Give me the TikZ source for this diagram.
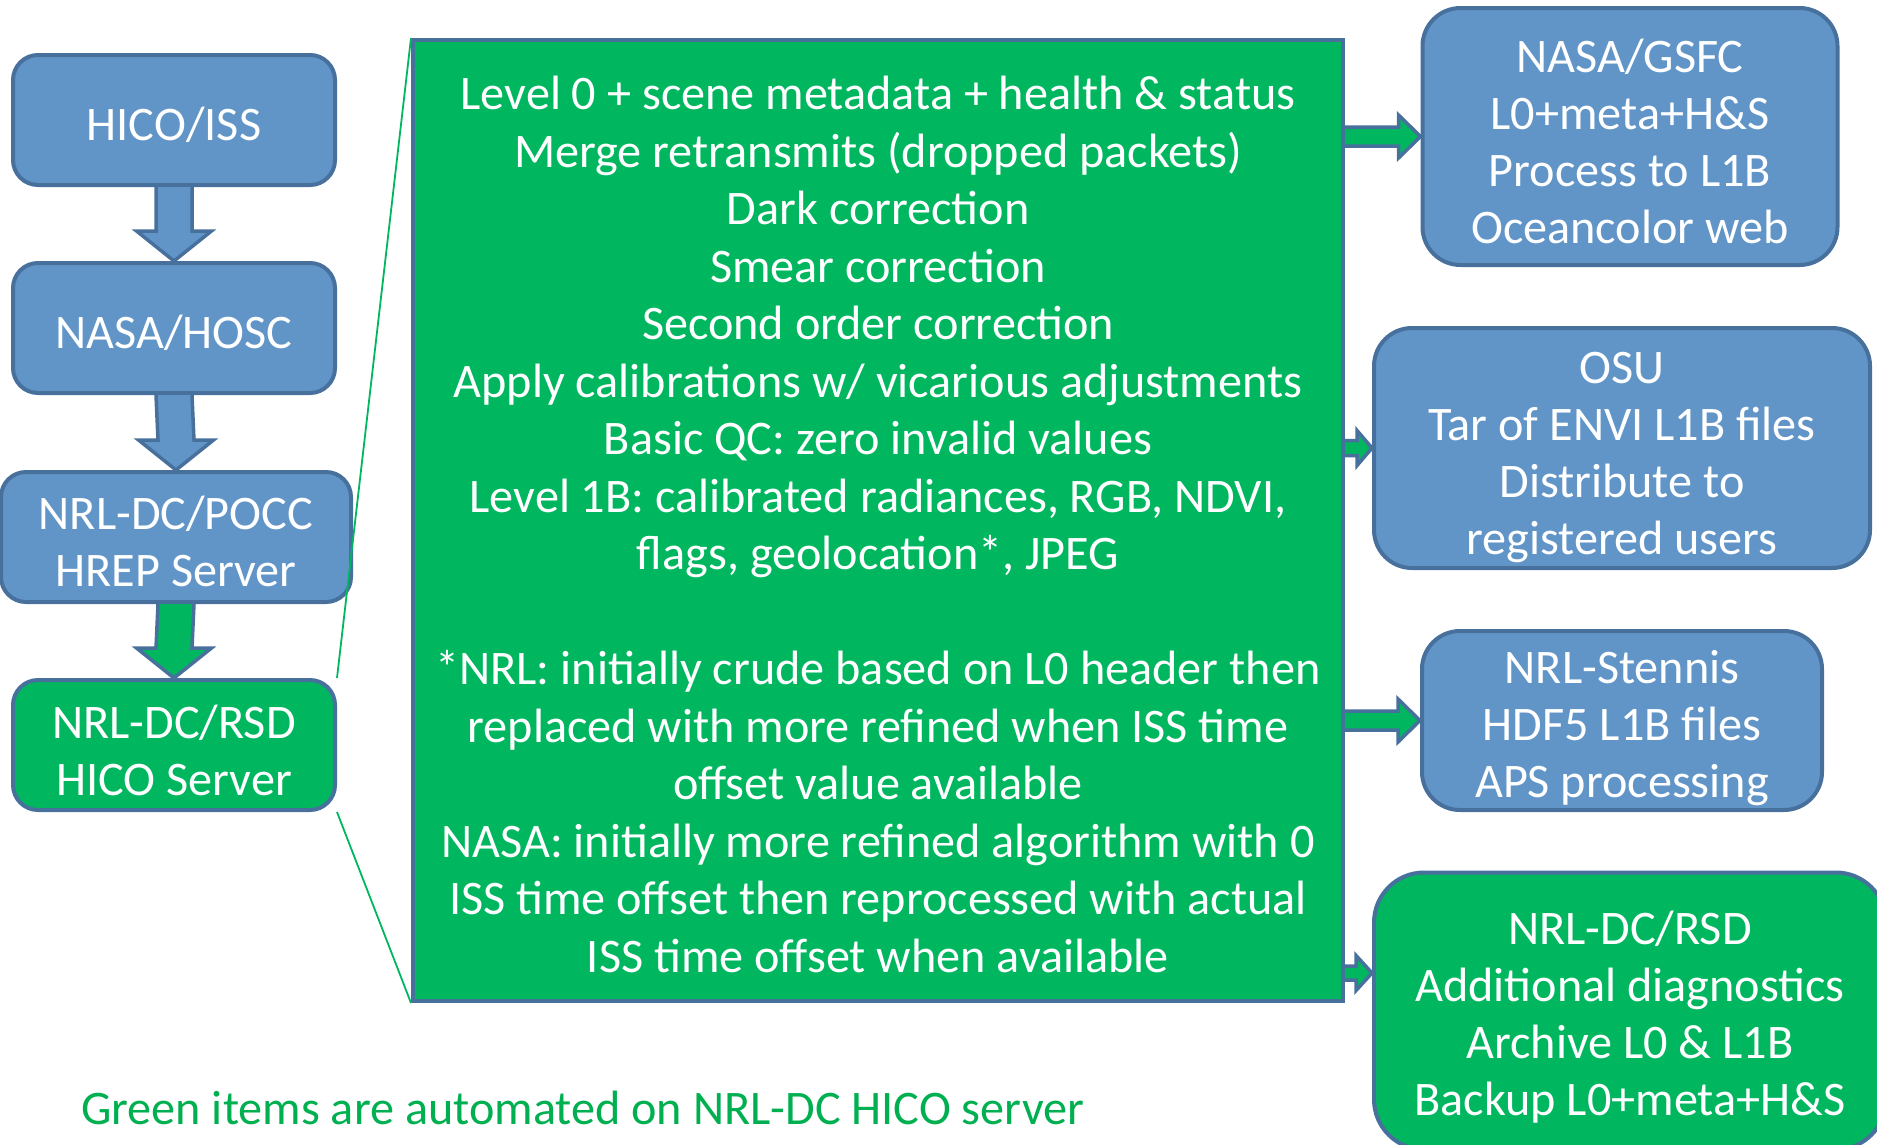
\documentclass[tikz,border=0pt]{standalone}
\usepackage{fontspec}
\setmainfont{Carlito}
\usetikzlibrary{calc}
\definecolor{bfill}{HTML}{6195C8}
\definecolor{bline}{HTML}{48709C}
\definecolor{gfill}{HTML}{00B760}
\definecolor{gtext}{HTML}{00B050}
\tikzset{
 box/.style={draw=bline, line width=4pt, rounded corners=25pt, inner sep=0pt},
 bluebox/.style={box, fill=bfill},
 greenbox/.style={box, fill=gfill},
 rbox/.style={rounded corners=38pt},
 boxtext/.style={text=white, align=center, inner sep=0pt, font=\fontsize{48.2}{57}\selectfont},
 blockarrow/.style={draw=bline, line width=3.5pt, fill=bfill, line join=miter},
 greenarrow/.style={draw=bline, line width=3.5pt, fill=gfill, line join=miter},
 callout/.style={draw=gfill, line width=1.8pt},
}
\newcommand\vArrow[6]{\draw[#6] ($(#1)+(-#3,0)$) -- ($(#2)+(-#3,-#5)$) -- ($(#2)+(-#4,-#5)$) -- (#2) -- ($(#2)+(#4,-#5)$) -- ($(#2)+(#3,-#5)$) -- ($(#1)+(#3,0)$);}
\newcommand\hArrow[6]{\draw[#6] ($(#1)+(0,-#3)$) -- ($(#2)+(-#5,-#3)$) -- ($(#2)+(-#5,-#4)$) -- (#2) -- ($(#2)+(-#5,#4)$) -- ($(#2)+(-#5,#3)$) -- ($(#1)+(0,#3)$);}
\begin{document}
\begin{tikzpicture}[x=1pt,y=-1pt]
\useasboundingbox (0,0) rectangle (1877,1144);
\clip (0,0) rectangle (1877,1144);
% left column
\node[bluebox, minimum width=322pt, minimum height=130pt] (hico) at (174,120) {};
\node[boxtext] (hicot) at ($(hico.center)+(0,5)$) {HICO/ISS};
\node[bluebox, minimum width=322pt, minimum height=130pt] (hosc) at (174,328) {};
\node[boxtext] (hosct) at ($(hosc.center)+(0,5)$) {NASA/HOSC};
\node[bluebox, minimum width=350pt, minimum height=130pt] (pocc) at (176,537) {};
\node[boxtext] (pocct) at ($(pocc.center)+(0,4.5)$) {NRL-DC/POCC\\HREP Server};
\node[greenbox, minimum width=322pt, minimum height=130pt] (rsdl) at (174,745) {};
\node[boxtext] (rsdlt) at ($(rsdl.center)+(0,5)$) {NRL-DC/RSD\\HICO Server};
\vArrow{hico.south}{hosc.north}{18}{37.5}{30}{blockarrow}
\vArrow{hosc.south}{pocc.north}{18}{37.5}{30}{blockarrow}
\vArrow{pocc.south}{rsdl.north}{18}{37.5}{30}{greenarrow}
% big box
\node[draw=bline, fill=gfill, line width=4pt, minimum width=930pt, minimum height=961pt, inner sep=0pt] (big) at (878,520.5) {};
\node[boxtext, font=\fontsize{48.2}{57.5}\selectfont] (bigt) at ($(big.center)+(0,4)$)
{Level 0 + scene metadata + health \& status\\
Merge retransmits (dropped packets)\\
Dark correction\\
Smear correction\\
Second order correction\\
Apply calibrations w/ vicarious adjustments\\
Basic QC: zero invalid values\\
Level 1B: calibrated radiances, RGB, NDVI,\\
flags, geolocation*, JPEG\\[57.5pt]
*NRL: initially crude based on L0 header then\\
replaced with more refined when ISS time\\
offset value available\\
NASA: initially more refined algorithm with 0\\
ISS time offset then reprocessed with actual\\
ISS time offset when available};
% right column
\node[bluebox, rbox, minimum width=415pt, minimum height=257pt] (gsfc) at (1630,136.5) {};
\node[boxtext] (gsfct) at ($(gsfc.center)+(0,5)$) {NASA/GSFC\\L0+meta+H\&S\\Process to L1B\\Oceancolor web};
\node[bluebox, rbox, minimum width=496pt, minimum height=240pt] (osu) at (1622,448) {};
\node[boxtext] (osut) at ($(osu.center)+(0,9)$) {OSU\\Tar of ENVI L1B files\\Distribute to\\registered users};
\node[bluebox, rbox, minimum width=400pt, minimum height=179pt] (sten) at (1622,720.5) {};
\node[boxtext] (stent) at ($(sten.center)+(0,8)$) {NRL-Stennis\\HDF5 L1B files\\APS processing};
\node[greenbox, rounded corners=50pt, minimum width=512pt, minimum height=277pt] (rsdr) at (1630,1011) {};
\node[boxtext] (rsdrt) at ($(rsdr.center)+(0,6)$) {NRL-DC/RSD\\Additional diagnostics\\Archive L0 \& L1B\\Backup L0+meta+H\&S};
\coordinate (a1s) at (big.east |- gsfc.west);
\coordinate (a2s) at (big.east |- osu.west);
\coordinate (a3s) at (big.east |- sten.west);
\coordinate (a4s) at (big.east |- 0,973);
\coordinate (a4e) at (rsdr.west |- 0,973);
\hArrow{a1s}{gsfc.west}{9.5}{21.5}{22}{greenarrow}
\hArrow{a2s}{osu.west}{7.5}{17.5}{15}{greenarrow}
\hArrow{a3s}{sten.west}{9.5}{21.5}{22}{greenarrow}
\hArrow{a4s}{a4e}{7}{17.5}{16}{greenarrow}
% callout lines
\draw[callout] (big.north west) -- (rsdl.north east);
\draw[callout] (rsdl.south east) -- (big.south west);
% caption
\node[anchor=west, inner sep=0pt, text=gtext, font=\fontsize{48.2}{57}\selectfont] (cap) at (81,1108) {Green items are automated on NRL-DC HICO server};
\end{tikzpicture}
\end{document}
